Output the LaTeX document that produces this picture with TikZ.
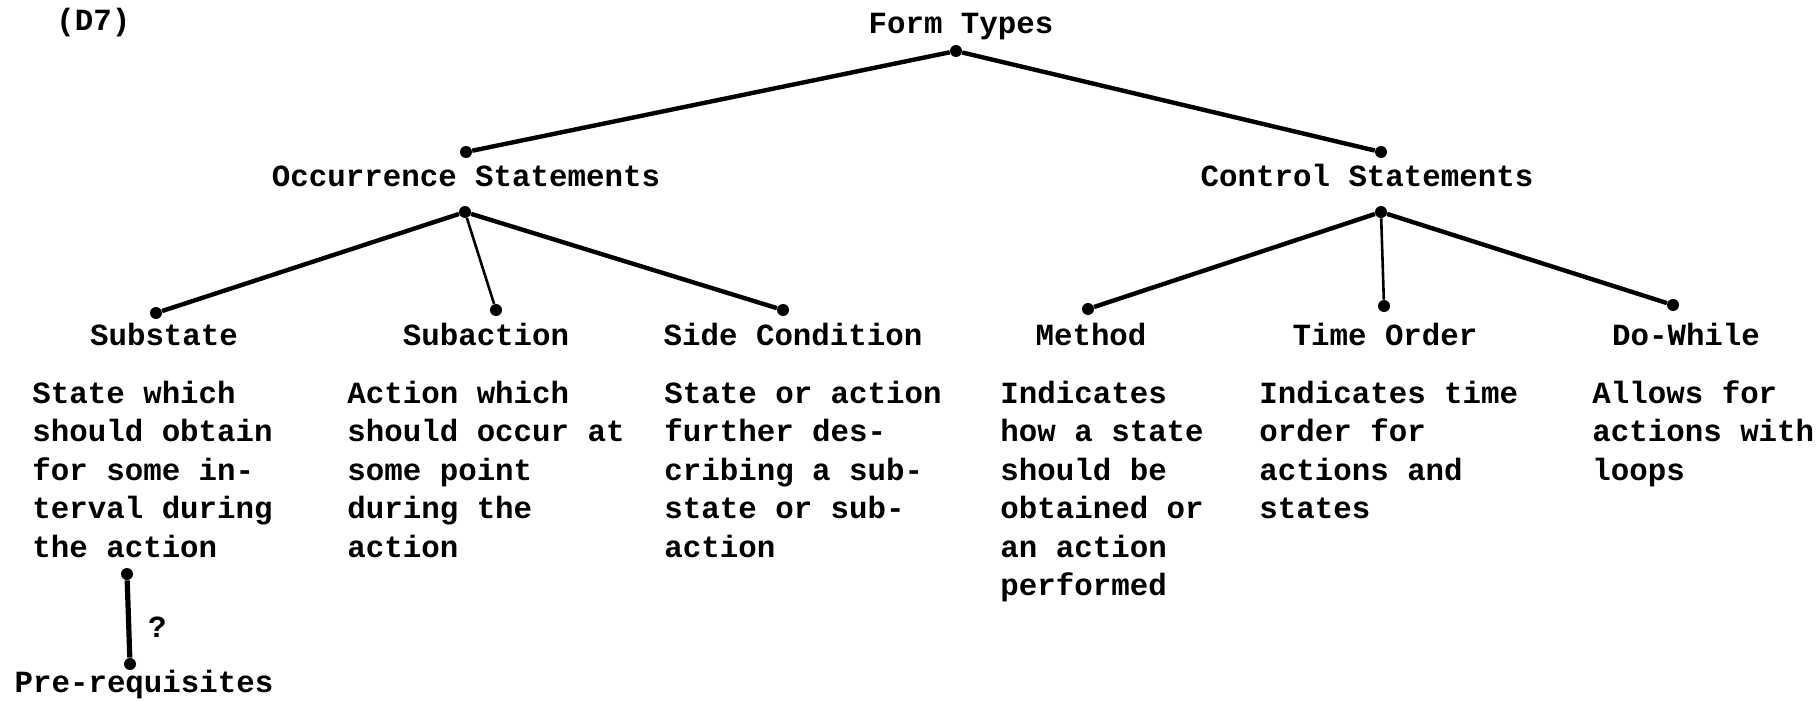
\documentclass[tikz,border=0pt]{standalone}
\usepackage{fontspec}
\setmonofont{Liberation Mono}
\usetikzlibrary{positioning}

\begin{document}
\begin{tikzpicture}
[x=0.5pt,y=-0.5pt,
 font=\ttfamily\bfseries\fontsize{15.4}{19.1}\selectfont,
 dot/.style={circle,fill,inner sep=0pt,minimum size=6pt},
 lbl/.style={inner sep=0pt,anchor=base},
 desc/.style={inner sep=0pt,anchor=north west,align=left,
   font=\ttfamily\bfseries\fontsize{15.4}{19.25}\selectfont},
 tie/.style={line width=2.2pt},
 thintie/.style={line width=1.3pt}]
\useasboundingbox (0,0) rectangle (1820,701);
\node[lbl,anchor=base west](tag) at (56,31){(D7)};
\node[lbl](ft) at (961,34){Form Types};
\node[dot](ft-d) at (956,51){};
% second level
\node[dot](occ-t) at (466,152){};
\node[lbl](occ) at (466,186){Occurrence Statements};
\node[dot](occ-b) at (465,212){};
\node[dot](ctl-t) at (1381,152){};
\node[lbl](ctl) at (1367,186){Control Statements};
\node[dot](ctl-b) at (1381,212){};
% third level
\node[dot](sst-d) at (156,313){};
\node[dot](sac-d) at (496,310){};
\node[dot](sdc-d) at (783,310){};
\node[dot](mth-d) at (1088,309){};
\node[dot](tim-d) at (1384,306){};
\node[dot](dow-d) at (1673,305){};
\node[lbl](sst) at (164,345){Substate};
\node[lbl](sac) at (486,345){Subaction};
\node[lbl](sdc) at (793,345){Side Condition};
\node[lbl](mth) at (1091,345){Method};
\node[lbl](tim) at (1385,345){Time Order};
\node[lbl](dow) at (1686,345){Do-While};
% descriptions
\node[desc](sst-x) at (32,376){\strut State which\\should obtain\\for some in-\\terval during\\the action};
\node[desc](sac-x) at (347,376){\strut Action which\\should occur at\\some point\\during the\\action};
\node[desc](sdc-x) at (664,376){\strut State or action\\further des-\\cribing a sub-\\state or sub-\\action};
\node[desc](mth-x) at (1000,376){\strut Indicates\\how a state\\should be\\obtained or\\an action\\performed};
\node[desc](tim-x) at (1259,376){\strut Indicates time\\order for\\actions and\\states};
\node[desc](dow-x) at (1592,376){\strut Allows for\\actions with\\loops};
% pre-requisites
\node[dot](pre-t) at (127,574){};
\node[dot](pre-b) at (130,664){};
\node[lbl](pre) at (144,692){Pre-requisites};
% connectors
\path (ft-d) edge[tie] (occ-t);
\path (ft-d) edge[tie] (ctl-t);
\path (occ-b) edge[tie] (sst-d);
\path (occ-b) edge[thintie] (sac-d);
\path (occ-b) edge[tie] (sdc-d);
\path (ctl-b) edge[tie] (mth-d);
\path (ctl-b) edge[thintie] (tim-d);
\path (ctl-b) edge[tie] (dow-d);
\path (pre-t) edge[line width=2.6pt] node[pos=0.6,right=5pt]{?} (pre-b);
\end{tikzpicture}
\end{document}
